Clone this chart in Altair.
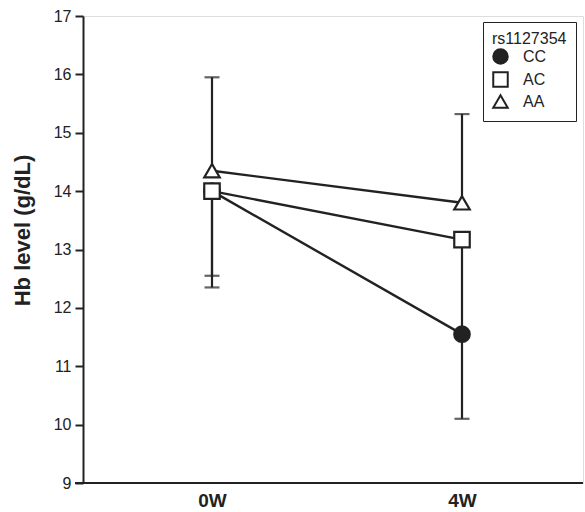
import altair as alt
import pandas as pd

times = ["0W", "4W"]
genotypes = ["CC", "AC", "AA"]
means = {
    "CC": [14.0, 11.55],
    "AC": [14.0, 13.17],
    "AA": [14.35, 13.8],
}
# end of the (one-sided) error bar for each group / time
err_end = {
    "CC": [12.55, 10.1],
    "AC": [12.35, 11.6],
    "AA": [15.95, 15.32],
}

rows = []
for g in genotypes:
    for i, t in enumerate(times):
        rows.append({"genotype": g, "time": t, "mean": means[g][i], "end": err_end[g][i]})
df = pd.DataFrame(rows)

FONT = "Liberation Sans"
INK = "#222222"

x_enc = alt.X("time:N", sort=times,
              scale=alt.Scale(type="point", range=[129, 379], padding=0),
              axis=alt.Axis(title=None, domain=False, ticks=False, labelAngle=0,
                            labelFont=FONT, labelFontSize=19, labelFontWeight="bold",
                            labelColor=INK, labelPadding=8, grid=False))
y_scale = alt.Scale(domain=[9, 17], nice=False, zero=False)
y_axis = alt.Axis(title="Hb level (g/dL)", values=list(range(9, 18)), format="d", grid=False,
                  domainColor=INK, domainWidth=2, tickColor=INK, tickWidth=2, tickSize=8,
                  labelFont=FONT, labelFontSize=16, labelColor=INK, labelPadding=4,
                  titleFont=FONT, titleFontSize=22, titleFontWeight="bold", titleColor=INK,
                  titleX=-61, titleY=214, titleAngle=270, titleAlign="center",
                  titleBaseline="middle")

legend_kw = dict(title="rs1127354", orient="none", legendX=400, legendY=6,
                 strokeColor=INK, padding=9, cornerRadius=0,
                 titleFont=FONT, titleFontSize=16, titleFontWeight="normal",
                 titleColor=INK, titlePadding=1,
                 labelFont=FONT, labelFontSize=16, labelColor=INK,
                 symbolStrokeWidth=2, symbolSize=210,
                 rowPadding=0, labelOffset=14)

base = alt.Chart(df)

baseline = base.mark_rule(color=INK, strokeWidth=2).encode(
    x=alt.value(-8), x2=alt.value(500), y=alt.datum(9, scale=y_scale)
).transform_filter(alt.datum.genotype == "CC").transform_filter(alt.datum.time == "0W")

bars = base.mark_rule(color=INK, strokeWidth=2.2).encode(
    x=x_enc,
    y=alt.Y("mean:Q", scale=y_scale, axis=y_axis),
    y2="end:Q",
)
caps = base.mark_tick(color=INK, thickness=2.2, size=15).encode(
    x=alt.X("time:N", sort=times), y=alt.Y("end:Q", scale=y_scale)
)
lines = base.mark_line(color=INK, strokeWidth=2.4).encode(
    x=alt.X("time:N", sort=times), y=alt.Y("mean:Q", scale=y_scale),
    detail="genotype:N"
)
points = base.mark_point(filled=True, strokeWidth=2.2, size=240, opacity=1).encode(
    x=alt.X("time:N", sort=times),
    y=alt.Y("mean:Q", scale=y_scale),
    shape=alt.Shape("genotype:N",
                    scale=alt.Scale(domain=genotypes, range=["circle", "square", "triangle-up"]),
                    legend=alt.Legend(**legend_kw)),
    fill=alt.Fill("genotype:N",
                  scale=alt.Scale(domain=genotypes, range=[INK, "white", "white"]),
                  legend=alt.Legend(**legend_kw)),
    stroke=alt.Stroke("genotype:N",
                      scale=alt.Scale(domain=genotypes, range=[INK, INK, INK]),
                      legend=alt.Legend(**legend_kw)),
)

chart = alt.layer(bars, caps, lines, points, baseline).properties(
    width=500, height=467,
    padding={"left": 83, "top": 16, "right": 2, "bottom": 29},
    autosize=alt.AutoSizeParams(type="none"),
).configure_view(stroke=None).configure(background="white")

chart.save("out.html", embed_options={"renderer": "svg", "actions": False})
